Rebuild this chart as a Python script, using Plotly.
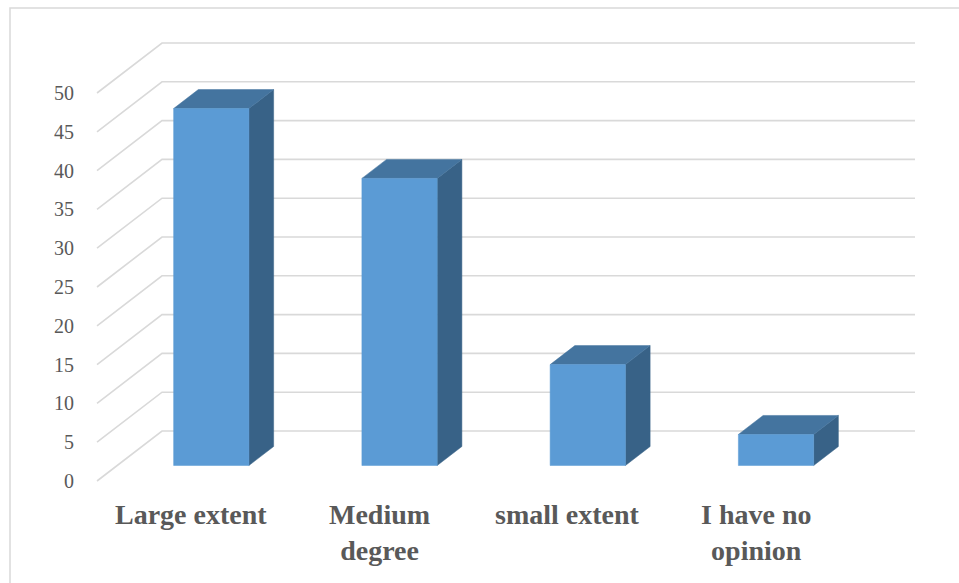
import plotly.graph_objects as go

# Survey responses (percent)
categories = ["Large extent", "Medium<br>degree", "small extent", "I have no<br>opinion"]
values = [46, 37, 13, 4]
tick_values = [0, 5, 10, 15, 20, 25, 30, 35, 40, 45, 50]

FRONT = "#5b9bd5"
TOP = "#44749f"
SIDE = "#386287"
GRID = "#d9d9d9"
TEXT = "#595959"

# oblique projection: depth vector in data units (x: category units, y: value units)
DX, DY = 0.3453, 6.443
F1, F2 = 0.31, 0.69      # bar depth placement (fraction of floor depth)
HW = 0.2                  # bar half-width in category units
n = len(categories)

fig = go.Figure()

def poly(xs, ys, color):
    fig.add_trace(go.Scatter(x=xs + [xs[0]], y=ys + [ys[0]], mode="lines", fill="toself",
                             fillcolor=color, line=dict(color=color, width=0.5),
                             hoverinfo="skip", showlegend=False))

# side-wall diagonals and back-wall gridlines
for t in tick_values:
    x0, x1 = -0.5, -0.5 + DX
    x2 = n - 0.5 + DX
    fig.add_trace(go.Scatter(x=[x0, x1, x2], y=[t, t + DY, t + DY], mode="lines",
                             line=dict(color=GRID, width=1.6), hoverinfo="skip", showlegend=False))

# 3-D bars
for i, v in enumerate(values):
    fl, fr = i - HW + F1 * DX, i + HW + F1 * DX
    bl, br = i - HW + F2 * DX, i + HW + F2 * DX
    y0f, y0b = F1 * DY, F2 * DY
    poly([fr, br, br, fr], [y0f, y0b, v + y0b, v + y0f], SIDE)
    poly([fl, fr, br, bl], [v + y0f, v + y0f, v + y0b, v + y0b], TOP)
    poly([fl, fr, fr, fl], [y0f, y0f, v + y0f, v + y0f], FRONT)

# value axis labels
for t in tick_values:
    fig.add_annotation(x=-0.5 - 0.11, y=t, text=str(t), showarrow=False, xanchor="right",
                       yanchor="middle", font=dict(family="Liberation Serif", size=20, color=TEXT))

# category labels
for i, c in enumerate(categories):
    fig.add_annotation(x=i, y=-2.1, text=f"<b>{c}</b>", showarrow=False, xanchor="center",
                       yanchor="top", align="center",
                       font=dict(family="Liberation Serif", size=28, color=TEXT))

# chart border
fig.add_shape(type="rect", xref="paper", yref="paper", x0=10 / 959, x1=1.02,
              y0=-0.02, y1=1 - 8 / 583, line=dict(color=GRID, width=1.5), layer="below")

fig.update_layout(
    width=959, height=583, margin=dict(l=0, r=0, t=0, b=0),
    paper_bgcolor="white", plot_bgcolor="white",
    xaxis=dict(range=[-1.0153, 4.0790], visible=False, fixedrange=True),
    yaxis=dict(range=[-13.144, 61.985], visible=False, fixedrange=True),
    showlegend=False,
)

fig.write_html("out.html")
